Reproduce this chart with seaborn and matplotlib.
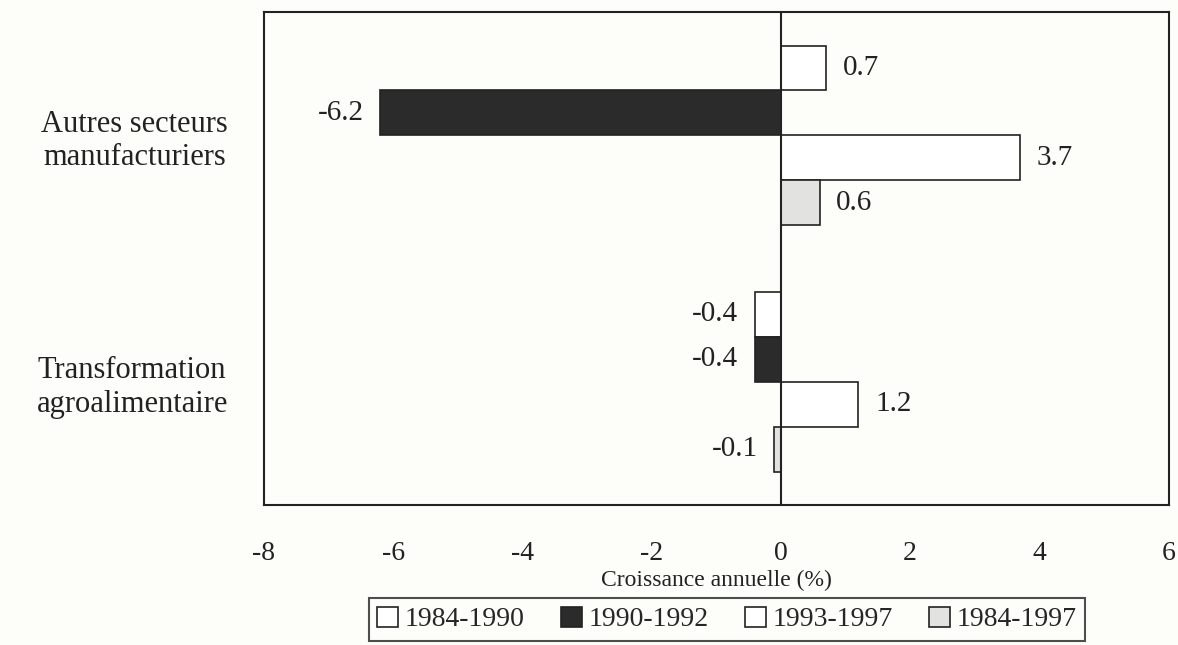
import pandas as pd
import matplotlib
matplotlib.use("Agg")
import matplotlib.pyplot as plt
import seaborn as sns
from matplotlib.patches import Patch

# Données
secteurs = ["Autres secteurs\nmanufacturiers", "Transformation\nagroalimentaire"]
periodes = ["1984-1990", "1990-1992", "1993-1997", "1984-1997"]
autres = [0.7, -6.2, 3.7, 0.6]
agro = [-0.4, -0.4, 1.2, -0.1]
couleurs = ["#ffffff", "#2b2b2b", "#ffffff", "#e2e2e0"]

rows = []
for sect, vals in zip(secteurs, [autres, agro]):
    for per, v in zip(periodes, vals):
        rows.append({"secteur": sect, "periode": per, "croissance": v})
df = pd.DataFrame(rows)

sns.set_style("white")
plt.rcParams['font.family'] = ['Liberation Serif', 'DejaVu Serif']
bg = "#fdfdfa"
ink = "#222222"

fig = plt.figure(figsize=(11.78, 6.45), dpi=100, facecolor=bg)
ax = fig.add_axes([0.224, 0.217, 0.768, 0.764])
ax.set_facecolor(bg)

palette = dict(zip(periodes, couleurs))
sns.barplot(data=df, x="croissance", y="secteur", hue="periode",
            hue_order=periodes, order=secteurs, palette=palette,
            orient="h", width=0.73, edgecolor=ink, linewidth=1.2,
            saturation=1, legend=False, ax=ax)

for cont in ax.containers:
    ax.bar_label(cont, fmt="%.1f", padding=12, fontsize=21, color=ink)

ax.axvline(0, color=ink, linewidth=1.5)
ax.set_xlim(-8, 6)
ax.set_ylim(1.5, -0.5)
ax.set_xticks(range(-8, 7, 2))
ax.set_xticklabels([str(t) for t in range(-8, 7, 2)])
ax.tick_params(axis="x", length=0, labelsize=20, colors=ink, pad=26)
ax.tick_params(axis="y", length=0, labelsize=22, colors=ink, pad=26)
for lab in ax.get_yticklabels():
    lab.set_multialignment("center")
    lab.set_linespacing(1.2)
ax.set_ylabel("")
ax.set_xlabel("Croissance annuelle (%)", fontsize=17, color=ink, labelpad=3)
for sp in ax.spines.values():
    sp.set_color(ink)
    sp.set_linewidth(1.5)

handles = [Patch(facecolor=c, edgecolor=ink, linewidth=1.2) for c in couleurs]
leg = fig.legend(handles, periodes, loc="lower center", bbox_to_anchor=(0.617, 0.0),
                 ncol=4, fontsize=20, frameon=True, fancybox=False,
                 handlelength=0.75, handleheight=0.75, handletextpad=0.25,
                 columnspacing=1.3, borderpad=0.3, borderaxespad=0.15)
leg.get_frame().set_edgecolor(ink)
leg.get_frame().set_linewidth(1.5)
leg.get_frame().set_facecolor(bg)

fig.savefig("out.png", dpi=100, facecolor=bg)
